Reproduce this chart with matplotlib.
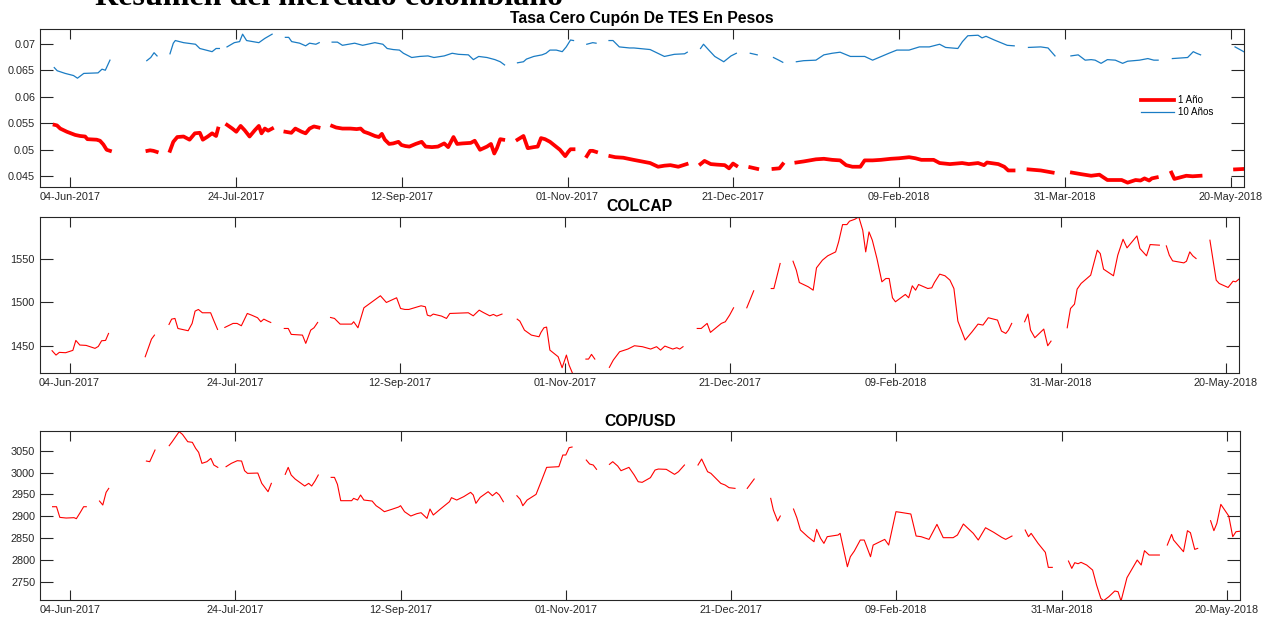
import datetime as dt
import numpy as np
import matplotlib
matplotlib.use("Agg")
import matplotlib.pyplot as plt
import matplotlib.dates as mdates

nan = np.nan
base_date = dt.datetime(2017, 6, 4)

# days after 04-Jun-2017, nan = break in the series (holidays / missing data)
tes_1y_d = [-4.7, -4.0, -3.0, -1.0, 1.5, 3.0, 4.5, 5.2, 8.0, 9.0, 10.0, 11.0, 12.0, nan,
            23.3, 24.1, 25.1, 26.1, nan,
            30.1, 31.1, 32.3, 34.2, 36.0, 37.6, 39.1, 40.0, 41.5, 42.8, 44.0, 44.6, nan,
            47.3, 48.9, 50.1, 51.4, 52.6, 54.1, 55.7, 56.9, 57.7, 58.7, 59.7, 60.9, nan,
            64.9, 66.7, 67.9, 69.8, 71.0, 72.2, 73.5, 74.9, nan,
            79.0, 80.2, 82.1, 84.5, 86.4, 87.6, 88.6, 90.0, 91.9, 93.1, 94.0, 94.9, 96.2, 97.4,
            99.0, 99.9, 101.1, 102.3, 104.2, 106.0, 107.2, 109.1, 110.9, 112.8, 114.0, 115.6,
            116.7, 118.3, 120.8, 122.0, 123.6, 125.7, 126.9, 127.9, 128.7, 129.7, 130.6, nan,
            134.9, 136.7, 138.0, 139.8, 141.0, 142.0, 143.2, 144.7, 145.9, 147.7, 149.3, 150.2,
            150.9, 151.8, nan,
            155.8, 156.8, 157.6, 158.6, nan,
            162.9, 164.4, 166.8, 169.9, 172.4, 174.9, 177.3, 179.2, 181.0, 183.4, 185.9, nan,
            190.1, 191.3, 193.2, 195.0, 197.4, 198.7, 199.9, 200.9, nan,
            205.1, 207.2, nan,
            212.1, 213.9, 214.9, nan,
            219.0, 221.2, 224.9, 227.3, 229.8, 232.2, 234.0, 235.9, 238.3, 239.6, 242.0, 244.5,
            247.5, 250.0, 253.0, 254.9, 256.7, 260.4, 262.2, 265.3, 269.0, 271.0, 273.8, 275.6,
            276.5, 279.9, 281.7, 282.9, 284.5, nan,
            289.0, 292.7, 296.3, nan,
            302.1, 304.9, 307.9, 310.4, 312.8, 315.2, 317.1, 318.9, 321.3, 322.8, 324.0, 325.4,
            326.2, 327.7, nan,
            332.1, 333.0, 334.8, 336.6, 338.5, 340.9, nan,
            351.3, 354.5]
tes_1y_v = [0.0547, 0.0546, 0.0540, 0.0534, 0.0528, 0.0526, 0.0525, 0.0520, 0.0519, 0.0517, 0.0510, 0.0500, 0.0498, nan,
            0.0498, 0.0499, 0.0498, 0.0496, nan,
            0.0498, 0.0515, 0.0524, 0.0525, 0.0519, 0.0531, 0.0532, 0.0519, 0.0525, 0.0531, 0.0526, 0.0540, nan,
            0.0547, 0.0540, 0.0534, 0.0545, 0.0537, 0.0525, 0.0537, 0.0545, 0.0531, 0.0540, 0.0536, 0.0540, nan,
            0.0534, 0.0532, 0.0540, 0.0534, 0.0531, 0.0540, 0.0544, 0.0542, nan,
            0.0545, 0.0542, 0.0540, 0.0540, 0.0539, 0.0540, 0.0534, 0.0531, 0.0526, 0.0524, 0.0530, 0.0519, 0.0511, 0.0512,
            0.0515, 0.0509, 0.0507, 0.0506, 0.0511, 0.0515, 0.0506, 0.0505, 0.0506, 0.0512, 0.0505, 0.0524,
            0.0511, 0.0512, 0.0513, 0.0517, 0.0500, 0.0506, 0.0511, 0.0493, 0.0503, 0.0520, 0.0519, nan,
            0.0519, 0.0526, 0.0503, 0.0505, 0.0506, 0.0522, 0.0520, 0.0515, 0.0509, 0.0500, 0.0488, 0.0496,
            0.0501, 0.0501, nan,
            0.0488, 0.0498, 0.0498, 0.0496, nan,
            0.0488, 0.0486, 0.0485, 0.0481, 0.0478, 0.0475, 0.0468, 0.0470, 0.0471, 0.0468, 0.0473, nan,
            0.0473, 0.0479, 0.0473, 0.0472, 0.0471, 0.0465, 0.0474, 0.0470, nan,
            0.0467, 0.0464, nan,
            0.0464, 0.0465, 0.0473, nan,
            0.0476, 0.0478, 0.0482, 0.0483, 0.0481, 0.0480, 0.0471, 0.0468, 0.0468, 0.0480, 0.0480, 0.0481,
            0.0483, 0.0484, 0.0486, 0.0484, 0.0481, 0.0481, 0.0475, 0.0473, 0.0475, 0.0473, 0.0475, 0.0471,
            0.0476, 0.0473, 0.0468, 0.0461, 0.0461, nan,
            0.0463, 0.0461, 0.0457, nan,
            0.0457, 0.0454, 0.0451, 0.0453, 0.0443, 0.0443, 0.0443, 0.0438, 0.0443, 0.0442, 0.0446, 0.0442,
            0.0446, 0.0448, nan,
            0.0457, 0.0445, 0.0448, 0.0451, 0.0450, 0.0451, nan,
            0.0463, 0.0464]

tes_10y_d = [-4.8, -3.9, -1.5, 1.0, 2.2, 4.1, 8.4, 9.6, 10.6, 12.0, nan,
             23.1, 24.3, 25.3, 26.2, nan,
             30.1, 31.1, 31.7, 34.2, 37.8, 39.1, 42.8, 44.0, 45.0, nan,
             47.3, 49.5, 51.1, 52.0, 53.2, 56.9, 58.7, 60.9, nan,
             64.9, 65.9, 66.8, 69.2, 71.0, 72.2, 74.1, 75.1, nan,
             79.0, 80.6, 82.1, 85.8, 88.2, 91.9, 94.3, 95.6, 97.4, 99.3, 100.5, 103.0, 105.4,
             107.9, 109.7, 112.8, 115.2, 117.1, 120.1, 121.6, 123.2, 125.7, 128.1, 129.7, 131.0, nan,
             134.9, 136.7, 137.6, 139.8, 142.3, 143.5, 144.7, 146.6, 148.4, 149.6, 150.9, 151.8, nan,
             155.8, 157.6, 158.6, nan,
             162.5, 163.7, 165.6, 168.7, 170.0, 174.9, 179.2, 182.2, 185.3, 186.1, nan,
             190.1, 191.0, 192.6, 194.4, 197.1, 199.3, 200.9, nan,
             205.1, 207.2, nan,
             212.1, 213.7, 214.9, nan,
             219.0, 221.2, 224.9, 227.3, 229.8, 232.2, 235.3, 239.6, 242.0, 246.9, 249.3, 253.0,
             256.1, 259.1, 262.2, 264.0, 267.7, 269.1, 270.7, 273.8, 275.0, 276.2, 278.7, 282.6, 284.7, nan,
             289.0, 292.7, 294.9, 297.0, nan,
             301.8, 304.0, 306.1, 307.9, 309.1, 310.9, 312.8, 315.2, 317.4, 318.9, 322.5, 325.0,
             326.8, 328.1, nan,
             332.4, 337.0, 338.7, 339.7, 340.9, nan,
             351.3, 354.5]
tes_10y_v = [0.0655, 0.0649, 0.0644, 0.0640, 0.0635, 0.0644, 0.0645, 0.0652, 0.0650, 0.0669, nan,
             0.0668, 0.0674, 0.0683, 0.0677, nan,
             0.0681, 0.0701, 0.0706, 0.0702, 0.0699, 0.0691, 0.0685, 0.0691, 0.0691, nan,
             0.0694, 0.0702, 0.0704, 0.0718, 0.0706, 0.0702, 0.0710, 0.0718, nan,
             0.0712, 0.0712, 0.0704, 0.0701, 0.0696, 0.0701, 0.0699, 0.0702, nan,
             0.0703, 0.0703, 0.0697, 0.0701, 0.0697, 0.0702, 0.0699, 0.0691, 0.0689, 0.0688, 0.0682, 0.0674, 0.0676,
             0.0677, 0.0674, 0.0677, 0.0682, 0.0680, 0.0679, 0.0670, 0.0676, 0.0674, 0.0670, 0.0666, 0.0660, nan,
             0.0664, 0.0666, 0.0671, 0.0676, 0.0679, 0.0682, 0.0688, 0.0688, 0.0685, 0.0694, 0.0707, 0.0706, nan,
             0.0699, 0.0702, 0.0701, nan,
             0.0706, 0.0706, 0.0694, 0.0692, 0.0692, 0.0689, 0.0676, 0.0680, 0.0681, 0.0684, nan,
             0.0691, 0.0699, 0.0688, 0.0676, 0.0666, 0.0677, 0.0682, nan,
             0.0682, 0.0679, nan,
             0.0674, 0.0669, 0.0665, nan,
             0.0666, 0.0668, 0.0669, 0.0679, 0.0682, 0.0684, 0.0676, 0.0676, 0.0669, 0.0682, 0.0688, 0.0688,
             0.0694, 0.0694, 0.0699, 0.0693, 0.0691, 0.0704, 0.0715, 0.0716, 0.0711, 0.0714, 0.0707, 0.0697, 0.0696, nan,
             0.0693, 0.0694, 0.0692, 0.0677, nan,
             0.0677, 0.0679, 0.0669, 0.0670, 0.0669, 0.0663, 0.0670, 0.0669, 0.0663, 0.0667, 0.0669, 0.0672,
             0.0669, 0.0669, nan,
             0.0672, 0.0674, 0.0685, 0.0682, 0.0679, nan,
             0.0694, 0.0683]

colcap_d = [-5.3, -4.1, -3.1, -1.2, 1.0, 1.9, 3.1, 5.0, 7.7, 8.7, 9.7, 10.9, 11.8, nan,
            22.9, 23.8, 24.8, 25.7, nan,
            30.1, 30.9, 31.9, 32.8, 35.9, 37.1, 38.0, 39.0, 40.2, 42.7, 43.6, 44.8, nan,
            47.0, 49.5, 50.7, 52.0, 53.8, 55.1, 56.9, 57.9, 58.8, 60.0, 60.9, nan,
            65.0, 66.2, 67.1, 70.5, 71.5, 73.0, 74.0, 75.1, nan,
            79.0, 80.2, 81.9, 85.4, 86.0, 87.3, 89.1, 91.6, 94.1, 95.9, 99.0, 100.2, 101.5, 102.7,
            106.4, 107.7, 108.3, 109.2, 110.1, 112.6, 114.1, 115.1, 120.7, 122.2, 124.0, 125.2,
            127.2, 128.3, 129.3, 130.9, nan,
            135.5, 136.3, 137.7, 139.8, 142.1, 142.7, 143.6, 144.4, 145.4, 147.9, 149.1, 150.4,
            151.2, 152.4, nan,
            156.3, 157.1, 158.0, 159.0, nan,
            163.4, 164.6, 166.5, 169.0, 171.0, 173.4, 175.9, 177.7, 178.9, 180.2, 182.6, 183.8,
            184.7, 185.7, nan,
            190.0, 191.2, 193.0, 194.0, 196.1, 197.3, 198.5, 199.8, 201.0, nan,
            205.0, 207.1, nan,
            212.4, 213.2, 215.1, nan,
            219.0, 220.0, 220.9, 223.6, 225.1, 226.1, 227.9, 229.5, 231.9, 232.8, 234.0, 235.3,
            236.1, 237.7, 238.9, 240.1, 241.0, 242.0, 243.0, 244.4, 245.9, 247.1, 248.1, 249.1,
            250.0, 253.0, 254.0, 255.1, 256.1, 257.0, 259.8, 261.0, 261.8, 263.4, 265.0, 266.5,
            267.7, 268.9, 271.1, 273.2, 275.0, 276.5, 278.1, 280.9, 282.1, 283.4, 284.2, 285.2, nan,
            289.1, 290.1, 290.9, 292.2, 294.9, 296.1, 297.1, nan,
            302.0, 303.0, 304.2, 305.0, 306.2, 309.1, 311.1, 312.0, 313.0, 316.0, 317.3, 318.9,
            320.1, 323.1, 324.0, 326.0, 327.1, 329.9, nan,
            332.0, 332.9, 333.9, 337.3, 338.1, 339.1, 340.0, 341.0, nan,
            345.2, 347.1, 348.0, 350.7, 352.2, 353.0, 354.5]
colcap_v = [1444.3, 1439.3, 1442.4, 1442.0, 1444.7, 1456.1, 1450.8, 1450.4, 1447.0, 1449.2, 1455.7, 1456.1, 1464.1, nan,
            1437.4, 1446.9, 1457.6, 1462.2, nan,
            1474.4, 1480.5, 1481.3, 1469.8, 1467.2, 1475.6, 1489.7, 1491.6, 1487.8, 1487.8, 1479.4, 1468.7, nan,
            1471.0, 1475.6, 1475.6, 1472.9, 1487.0, 1485.1, 1482.1, 1477.5, 1480.5, 1478.2, 1476.7, nan,
            1469.8, 1469.8, 1463.0, 1462.2, 1452.7, 1467.9, 1470.6, 1476.7, nan,
            1482.4, 1481.3, 1474.8, 1474.8, 1477.5, 1470.6, 1493.5, 1500.4, 1507.3, 1499.6, 1505.0, 1492.7, 1491.6, 1491.6,
            1495.8, 1494.7, 1485.1, 1484.0, 1486.3, 1484.0, 1481.3, 1487.0, 1487.8, 1484.3, 1490.8, 1488.2,
            1484.3, 1485.9, 1484.0, 1486.3, nan,
            1480.5, 1478.2, 1467.9, 1462.2, 1460.3, 1465.3, 1470.6, 1471.4, 1445.0, 1437.4, 1424.8, 1439.3,
            1427.9, 1417.0, nan,
            1434.7, 1434.7, 1440.1, 1434.7, nan,
            1425.2, 1433.6, 1443.1, 1446.2, 1450.0, 1448.9, 1446.2, 1448.9, 1445.0, 1449.6, 1446.2, 1447.7,
            1446.2, 1448.9, nan,
            1469.8, 1469.8, 1475.6, 1465.3, 1471.8, 1475.6, 1477.5, 1485.1, 1493.5, nan,
            1493.5, 1513.0, nan,
            1515.6, 1515.6, 1544.3, nan,
            1546.9, 1536.6, 1522.5, 1517.6, 1513.7, 1539.3, 1548.1, 1553.1, 1557.6, 1569.1, 1588.9, 1588.9,
            1592.8, 1595.0, 1597.7, 1582.5, 1557.6, 1580.5, 1571.0, 1550.0, 1523.3, 1527.1, 1527.1, 1505.0,
            1500.4, 1508.8, 1505.0, 1518.7, 1513.7, 1520.2, 1515.6, 1516.4, 1522.5, 1532.1, 1530.2, 1525.2,
            1515.6, 1478.2, 1456.5, 1466.0, 1474.8, 1473.7, 1482.1, 1479.4, 1466.8, 1464.1, 1467.9, 1475.6, nan,
            1477.5, 1486.3, 1467.9, 1459.2, 1469.1, 1450.0, 1455.3, nan,
            1470.6, 1492.7, 1497.7, 1514.9, 1521.4, 1530.9, 1559.5, 1555.7, 1537.8, 1530.2, 1553.8, 1572.1,
            1562.2, 1575.9, 1561.5, 1553.1, 1566.0, 1565.3, nan,
            1564.5, 1553.8, 1547.3, 1545.0, 1546.9, 1557.6, 1553.1, 1550.0, nan,
            1571.0, 1525.2, 1521.4, 1516.8, 1524.0, 1523.3, 1528.0]

copusd_d = [-5.3, -4.1, -3.1, -1.2, 1.2, 1.9, 3.1, 4.1, 4.9, nan,
            8.9, 9.9, 10.9, 11.7, nan,
            23.1, 24.1, 25.7, nan,
            30.0, 30.9, 33.0, 34.0, 35.6, 37.0, 38.0, 38.9, 39.9, 41.4, 42.6, 43.5, 44.7, nan,
            47.2, 48.8, 50.6, 51.9, 52.8, 53.7, 56.8, 58.0, 59.9, 60.9, nan,
            65.1, 66.0, 66.9, 68.1, 71.0, 72.2, 73.1, 74.1, 75.1, nan,
            79.0, 80.0, 80.9, 81.9, 85.2, 85.8, 87.0, 87.9, 88.9, 91.4, 92.6, 93.8, 95.1, 97.3,
            99.4, 100.0, 101.2, 103.1, 104.9, 106.2, 108.0, 108.9, 109.9, 112.3, 114.8, 115.4,
            117.0, 119.1, 121.2, 122.0, 122.8, 124.1, 126.5, 127.8, 129.0, 129.9, 131.1, nan,
            135.2, 136.2, 137.0, 138.3, 141.0, 142.6, 144.2, 147.9, 149.1, 150.0, 151.0, 151.9, nan,
            156.2, 157.2, 158.3, 159.3, nan,
            163.2, 164.2, 165.7, 166.7, 169.1, 170.7, 171.9, 173.1, 175.6, 177.0, 178.0, 180.4,
            182.9, 184.1, 185.9, nan,
            190.0, 191.1, 192.9, 193.9, 196.9, 198.2, 199.4, 201.2, nan,
            204.9, 207.0, nan,
            212.0, 212.8, 214.1, 214.9, nan,
            218.9, 219.9, 221.0, 223.2, 225.1, 225.9, 227.1, 228.1, 229.1, 232.4, 233.0, 235.2,
            236.1, 237.3, 239.1, 240.3, 242.2, 243.0, 244.6, 246.5, 247.7, 249.9, 251.3, 254.4,
            256.0, 257.5, 259.9, 262.3, 264.2, 267.2, 268.5, 270.3, 273.3, 274.8, 277.0, 279.5,
            281.9, 283.1, 285.0, nan,
            289.0, 290.0, 290.8, 292.9, 295.1, 296.0, 297.2, nan,
            302.1, 303.1, 304.0, 305.0, 305.9, 307.6, 309.4, 310.6, 311.9, 312.7, 314.3, 316.1,
            317.1, 318.0, 319.8, 322.9, 324.1, 325.1, 326.5, 329.6, nan,
            332.0, 333.3, 333.9, 336.9, 338.1, 339.0, 340.3, 341.2, nan,
            345.1, 346.1, 347.0, 348.2, 350.6, 351.8, 352.8, 354.5]
copusd_v = [2921.7, 2921.7, 2897.3, 2895.8, 2896.6, 2894.3, 2908.8, 2921.7, 2921.7, nan,
            2934.7, 2925.6, 2954.6, 2963.7, nan,
            3026.3, 3024.8, 3051.5, nan,
            3061.5, 3070.6, 3093.5, 3087.4, 3070.6, 3069.1, 3055.3, 3046.2, 3021.0, 3024.8, 3032.4, 3017.2, 3011.8, nan,
            3013.4, 3021.0, 3027.1, 3026.3, 3004.2, 2998.1, 2998.8, 2975.2, 2956.1, 2975.2, nan,
            2995.8, 3011.8, 2994.3, 2985.1, 2969.1, 2975.2, 2969.1, 2980.5, 2994.3, nan,
            2988.9, 2988.9, 2972.9, 2935.5, 2935.5, 2940.8, 2937.0, 2948.5, 2937.0, 2934.7, 2924.0, 2917.9, 2910.3, 2915.6,
            2921.0, 2924.0, 2910.3, 2900.4, 2905.7, 2908.0, 2895.0, 2916.4, 2902.7, 2917.9, 2933.2, 2942.4,
            2937.0, 2944.7, 2954.6, 2948.5, 2929.4, 2943.1, 2956.1, 2946.9, 2954.6, 2948.5, 2933.2, nan,
            2946.9, 2938.5, 2924.0, 2937.0, 2950.0, 2980.5, 3011.8, 3013.4, 3040.1, 3040.1, 3056.9, 3058.4, nan,
            3028.6, 3019.5, 3017.2, 3007.3, nan,
            3018.7, 3024.8, 3014.9, 3004.2, 3011.8, 2994.3, 2979.0, 2977.5, 2988.2, 3005.7, 3008.0, 3007.3,
            2995.8, 3001.9, 3017.2, nan,
            3017.2, 3030.9, 3001.9, 2998.1, 2975.2, 2971.4, 2965.3, 2963.7, nan,
            2963.7, 2985.1, nan,
            2940.8, 2914.1, 2888.9, 2900.4, nan,
            2916.4, 2896.6, 2868.3, 2853.1, 2841.6, 2869.8, 2849.2, 2837.8, 2853.1, 2856.9, 2860.7, 2784.3,
            2807.2, 2820.2, 2845.4, 2845.4, 2807.2, 2833.9, 2839.9, 2846.9, 2833.9, 2910.3, 2908.8, 2905.0,
            2854.6, 2853.1, 2846.9, 2881.3, 2850.8, 2850.8, 2856.9, 2882.1, 2860.7, 2845.4, 2873.6, 2863.0,
            2851.5, 2846.9, 2854.6, nan,
            2868.3, 2853.1, 2860.7, 2837.8, 2817.2, 2782.8, 2782.8, nan,
            2797.3, 2780.5, 2793.5, 2791.2, 2794.3, 2788.2, 2776.7, 2742.4, 2711.8, 2706.5, 2715.6, 2728.6,
            2727.1, 2705.7, 2759.2, 2799.6, 2788.2, 2821.0, 2811.1, 2811.1, nan,
            2833.9, 2858.4, 2845.4, 2818.7, 2866.8, 2862.2, 2824.0, 2826.3, nan,
            2889.7, 2866.8, 2883.6, 2927.1, 2900.4, 2853.1, 2864.5, 2866.0]

tick_days = [0, 50, 100, 150, 200, 250, 300, 350]
tes_yticks = [0.045, 0.05, 0.055, 0.06, 0.065, 0.07]
colcap_yticks = [1450, 1500, 1550]
copusd_yticks = [2750, 2800, 2850, 2900, 2950, 3000, 3050]

plt.rcParams['font.family'] = ['Liberation Sans', 'DejaVu Sans']

W, H = 1265, 617


def to_x(days):
    base = mdates.date2num(base_date)
    return base + np.asarray(days, dtype=float)


def style_axes(ax, yticks, ylim, title):
    ax.set_xlim(to_x([-9.1, 354.0]))
    ax.set_ylim(ylim)
    ax.set_xticks(to_x(tick_days))
    ax.xaxis.set_major_formatter(mdates.DateFormatter('%d-%b-%Y'))
    ax.set_yticks(yticks)
    ax.set_yticklabels(['%g' % t for t in yticks])
    ax.tick_params(axis='x', direction='in', top=True, length=7.2, width=0.8,
                   labelsize=7.8, pad=3.5, colors='#262626')
    ax.tick_params(axis='y', direction='in', right=True, length=9.5, width=0.8,
                   labelsize=7.8, pad=3.5, colors='#262626')
    for s in ax.spines.values():
        s.set_color('#262626')
        s.set_linewidth(0.8)
    ax.set_title(title, fontsize=11.3, fontweight='bold', pad=4, color='black')


fig = plt.figure(figsize=(W / 100, H / 100), dpi=100)

ax1 = fig.add_axes([40 / W, 1 - 187 / H, 1204 / W, 158.5 / H])
ax1.plot(to_x(tes_1y_d), tes_1y_v, color='#ff0000', linewidth=2.7, label='1 Año')
ax1.plot(to_x(tes_10y_d), tes_10y_v, color='#1a7cc4', linewidth=0.9, label='10 Años')
style_axes(ax1, tes_yticks, (0.04298, 0.07287), 'Tasa Cero Cupón De TES En Pesos')
ax1.legend(loc='upper left', bbox_to_anchor=(1141 / W, 1 - 95 / H), bbox_transform=fig.transFigure,
           frameon=False, fontsize=7, handlelength=3.4, handletextpad=0.4,
           labelspacing=0.25, borderpad=0, borderaxespad=0)

ax2 = fig.add_axes([39.5 / W, 1 - 373.3 / H, 1199.5 / W, 156.3 / H])
ax2.plot(to_x(colcap_d), colcap_v, color='#ff0000', linewidth=0.8)
style_axes(ax2, colcap_yticks, (1418.4, 1597.6), 'COLCAP')

ax3 = fig.add_axes([40 / W, 1 - 600.3 / H, 1200 / W, 169 / H])
ax3.plot(to_x(copusd_d), copusd_v, color='#ff0000', linewidth=0.8)
style_axes(ax3, copusd_yticks, (2707.4, 3094.4), 'COP/USD')

fig.text(95 / W, 1 - 5 / H, 'Resumen del mercado colombiano', fontfamily='Liberation Serif',
         fontweight='bold', fontsize=23, ha='left', va='baseline')

fig.savefig('out.png', dpi=100)
